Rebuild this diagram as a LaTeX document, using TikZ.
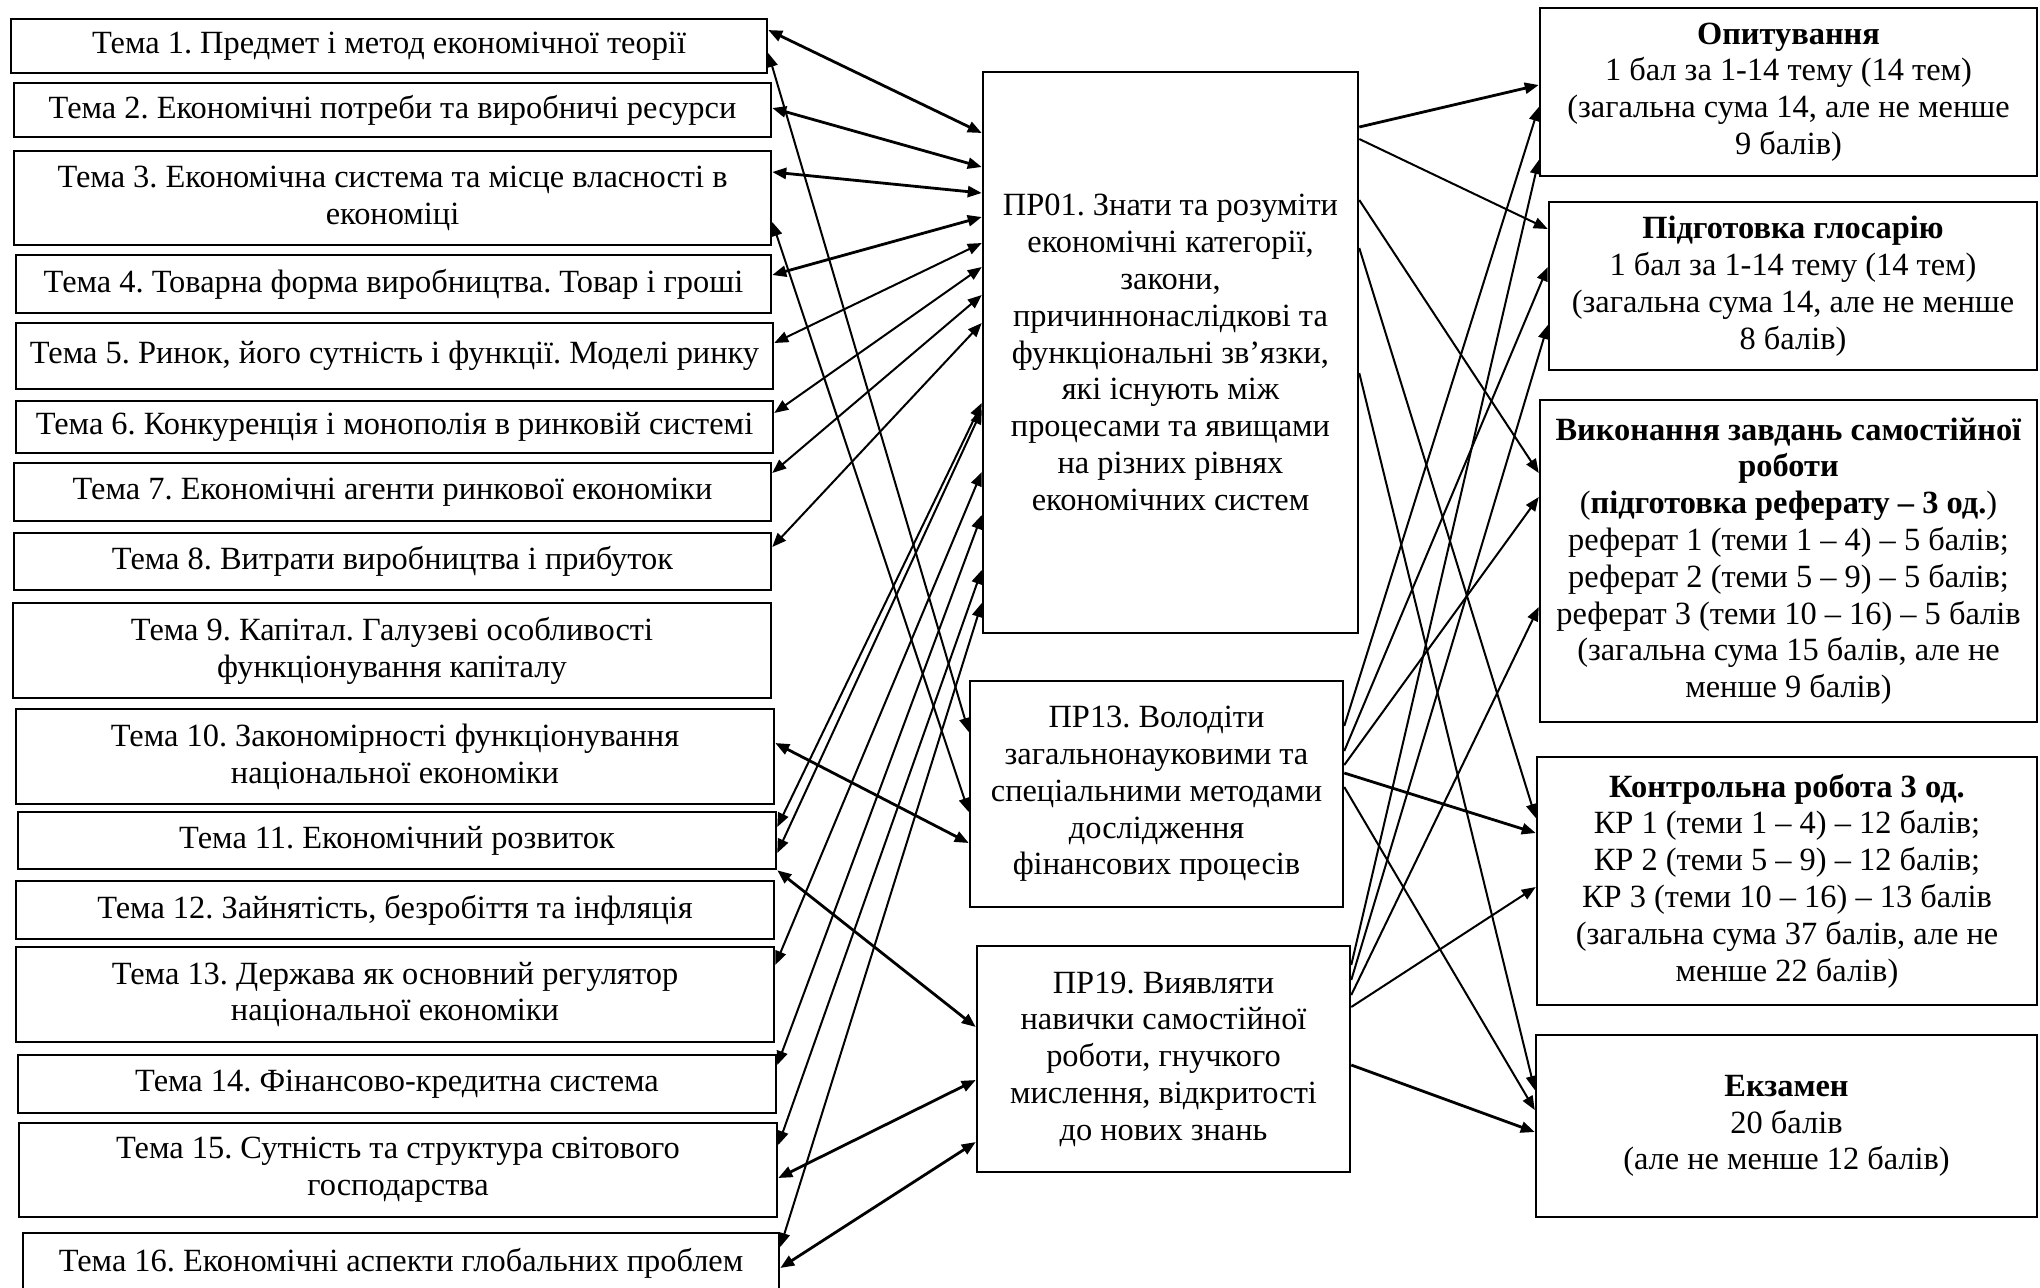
\documentclass[tikz,border=0pt]{standalone}
\usepackage{fontspec}
\setmainfont{Liberation Serif}
\usetikzlibrary{arrows.meta}
\frenchspacing
\begin{document}
\begin{tikzpicture}[x=0.5pt,y=-0.5pt,
  box/.style={draw, line width=1.25pt, inner sep=0pt, align=center, font=\fontsize{16.2pt}{18.4pt}\selectfont},
  ln/.style={line width=1pt},
  lnt/.style={line width=1.4pt},
  >={Triangle[length=7pt,width=5.5pt]}]
\useasboundingbox (0,0) rectangle (2040,1287);

% left column: topics
\node[box, minimum width=378pt,   minimum height=27pt]   (t1)  at (389,46)     {Тема 1. Предмет і метод економічної теорії};
\node[box, minimum width=378.5pt, minimum height=27pt]   (t2)  at (392.5,110)  {Тема 2. Економічні потреби та виробничі ресурси};
\node[box, minimum width=378.5pt, minimum height=47pt]   (t3)  at (392.5,198)  {Тема 3. Економічна система та місце власності в\\економіці};
\node[box, minimum width=377.5pt, minimum height=29pt]   (t4)  at (393.5,284)  {Тема 4. Товарна форма виробництва. Товар і гроші};
\node[box, minimum width=378.5pt, minimum height=33pt]   (t5)  at (394.5,356)  {Тема 5. Ринок, його сутність і функції. Моделі ринку};
\node[box, minimum width=378.5pt, minimum height=26pt]   (t6)  at (394.5,427)  {Тема 6. Конкуренція і монополія в ринковій системі};
\node[box, minimum width=378.5pt, minimum height=29pt]   (t7)  at (392.5,492)  {Тема 7. Економічні агенти ринкової економіки};
\node[box, minimum width=378.5pt, minimum height=28.5pt] (t8)  at (392.5,561.5){Тема 8. Витрати виробництва і прибуток};
\node[box, minimum width=379pt,   minimum height=47.5pt] (t9)  at (392,650.5)  {Тема 9. Капітал. Галузеві особливості\\функціонування капіталу};
\node[box, minimum width=379pt,   minimum height=47.5pt] (t10) at (395,756.5)  {Тема 10. Закономірності функціонування\\національної економіки};
\node[box, minimum width=379pt,   minimum height=28.5pt] (t11) at (397,840.5)  {Тема 11. Економічний розвиток};
\node[box, minimum width=379pt,   minimum height=29pt]   (t12) at (395,910)    {Тема 12. Зайнятість, безробіття та інфляція};
\node[box, minimum width=379pt,   minimum height=47.5pt] (t13) at (395,994.5)  {Тема 13. Держава як основний регулятор\\національної економіки};
\node[box, minimum width=379pt,   minimum height=29pt]   (t14) at (397,1084)   {Тема 14. Фінансово-кредитна система};
\node[box, minimum width=379pt,   minimum height=47pt]   (t15) at (398,1170)   {Тема 15. Сутність та структура світового\\господарства};
\node[box, minimum width=378pt,   minimum height=30pt]   (t16) at (401,1263)   {Тема 16. Економічні аспекти глобальних проблем};

% middle column: learning outcomes
\node[box, minimum width=187.5pt, minimum height=280.5pt] (pr01) at (1170.5,352.5)
  {ПР01. Знати та розуміти\\економічні категорії,\\закони,\\причиннонаслідкові та\\функціональні зв’язки,\\які існують між\\процесами та явищами\\на різних рівнях\\економічних систем};
\node[box, minimum width=186.5pt, minimum height=113pt] (pr13) at (1156.5,794)
  {ПР13. Володіти\\загальнонауковими та\\спеціальними методами\\дослідження\\фінансових процесів};
\node[box, minimum width=186.5pt, minimum height=113pt] (pr19) at (1163.5,1059)
  {ПР19. Виявляти\\навички самостійної\\роботи, гнучкого\\мислення, відкритості\\до нових знань};

% right column: assessment
\node[box, minimum width=248.5pt, minimum height=84pt] (op) at (1788.5,92)
  {\textbf{Опитування}\\1 бал за 1-14 тему (14 тем)\\(загальна сума 14, але не менше\\9 балів)};
\node[box, minimum width=244pt, minimum height=84pt] (gl) at (1793,286)
  {\textbf{Підготовка глосарію}\\1 бал за 1-14 тему (14 тем)\\(загальна сума 14, але не менше\\8 балів)};
\node[box, minimum width=248.5pt, minimum height=161pt] (vk) at (1788.5,561)
  {\textbf{Виконання завдань самостійної}\\\textbf{роботи}\\(\textbf{підготовка реферату – 3 од.})\\реферат 1 (теми 1 – 4) – 5 балів;\\реферат 2 (теми 5 – 9) – 5 балів;\\реферат 3 (теми 10 – 16) – 5 балів\\(загальна сума 15 балів, але не\\менше 9 балів)};
\node[box, minimum width=250pt, minimum height=124pt] (kr) at (1787,881)
  {\textbf{Контрольна робота 3 од.}\\КР 1 (теми 1 – 4) – 12 балів;\\КР 2 (теми 5 – 9) – 12 балів;\\КР 3 (теми 10 – 16) – 13 балів\\(загальна сума 37 балів, але не\\менше 22 балів)};
\node[box, minimum width=250.5pt, minimum height=91pt] (ek) at (1786.5,1126)
  {\textbf{Екзамен}\\20 балів\\(але не менше 12 балів)};

% topics <-> learning outcomes
\draw[lnt,<->] (t1.east |- 0,30)   -- (pr01.west |- 0,133);
\draw[lnt,<->] (t2.east |- 0,108)  -- (pr01.west |- 0,167);
\draw[lnt,<->] (t3.east |- 0,172)  -- (pr01.west |- 0,193);
\draw[lnt,<->] (t4.east |- 0,275)  -- (pr01.west |- 0,217);
\draw[ln,<->]  (t5.east |- 0,343)  -- (pr01.west |- 0,243);
\draw[ln,<->]  (t6.east |- 0,413)  -- (pr01.west |- 0,267);
\draw[ln,<->]  (t7.east |- 0,473)  -- (pr01.west |- 0,295);
\draw[ln,<->]  (t8.east |- 0,547)  -- (pr01.west |- 0,323);
\draw[ln,<->]  (t1.east |- 0,53)   -- (pr13.west |- 0,732);
\draw[ln,<->]  (t3.east |- 0,222)  -- (pr13.west |- 0,812);
\draw[lnt,<->] (t10.east |- 0,743) -- (pr13.west |- 0,843);
\draw[ln,<->]  (t11.east |- 0,827) -- (pr01.west |- 0,403);
\draw[ln,<->]  (t11.east |- 0,853) -- (pr01.west |- 0,410);
\draw[ln,<->]  (t13.east |- 0,965) -- (pr01.west |- 0,472);
\draw[ln,<->]  (t14.east |- 0,1065) -- (pr01.west |- 0,515);
\draw[ln,<->]  (t15.east |- 0,1145) -- (pr01.west |- 0,570);
\draw[ln,<->]  (t16.east |- 0,1247) -- (pr01.west |- 0,603);
\draw[lnt,<->] (t11.south east)    -- (pr19.west |- 0,1027);
\draw[lnt,<->] (t15.east |- 0,1178) -- (pr19.west |- 0,1080);
\draw[lnt,<->] (t16.east |- 0,1268) -- (pr19.west |- 0,1142);

% learning outcomes -> assessment
\draw[lnt,->] (pr01.east |- 0,127) -- (op.west |- 0,85);
\draw[ln,->]  (pr01.east |- 0,139) -- (gl.west |- 0,229);
\draw[ln,->]  (pr01.east |- 0,200) -- (vk.west |- 0,473);
\draw[ln,->]  (pr01.east |- 0,248) -- (kr.west |- 0,818);
\draw[ln,->]  (pr01.east |- 0,373) -- (ek.west |- 0,1090);
\draw[ln,->]  (pr13.east |- 0,726) -- (op.west |- 0,107);
\draw[ln,->]  (pr13.east |- 0,751) -- (gl.west |- 0,267);
\draw[ln,->]  (pr13.east |- 0,765) -- (vk.west |- 0,497);
\draw[lnt,->] (pr13.east |- 0,773) -- (kr.west |- 0,833);
\draw[ln,->]  (pr13.east |- 0,787) -- (ek.west |- 0,1110);
\draw[ln,->]  (pr19.east |- 0,965) -- (op.west |- 0,160);
\draw[ln,->]  (pr19.east |- 0,980) -- (gl.west |- 0,325);
\draw[ln,->]  (pr19.east |- 0,995) -- (vk.west |- 0,607);
\draw[ln,->]  (pr19.east |- 0,1007) -- (kr.west |- 0,887);
\draw[lnt,->] (pr19.east |- 0,1065) -- (ek.west |- 0,1132);
\end{tikzpicture}
\end{document}
